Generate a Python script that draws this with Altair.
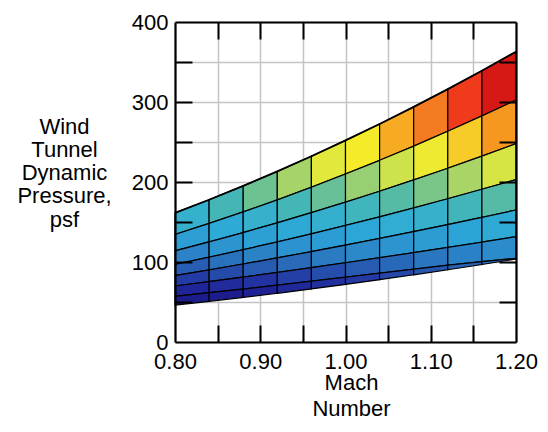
import altair as alt
import pandas as pd

# Mach numbers at the cell column edges
mach_edges = [0.80, 0.84, 0.88, 0.92, 0.96, 1.00, 1.04, 1.08, 1.12, 1.16, 1.20]

# Dynamic pressure (psf) of each boundary curve at the column edges, top to bottom
q_line_0 = [161.3, 177.8, 195.1, 213.3, 232.2, 252.0, 272.5, 293.9, 316.1, 339.1, 362.9]
q_line_1 = [134.4, 148.2, 162.6, 177.7, 193.5, 210.0, 227.1, 244.9, 263.4, 282.6, 302.4]
q_line_2 = [114.0, 125.2, 136.8, 149.0, 161.7, 174.8, 188.4, 202.6, 217.2, 232.3, 248.0]
q_line_3 = [97.0, 106.0, 115.4, 125.1, 135.2, 145.7, 156.5, 167.6, 179.1, 190.9, 203.0]
q_line_4 = [83.0, 90.1, 97.5, 105.2, 113.0, 121.2, 129.5, 138.0, 146.8, 155.8, 165.0]
q_line_5 = [70.0, 75.5, 81.2, 87.0, 93.0, 99.1, 105.4, 111.7, 118.2, 124.9, 131.7]
q_line_6 = [57.0, 61.6, 66.2, 71.0, 76.0, 81.0, 86.0, 91.0, 96.0, 100.5, 104.5]
q_line_7 = [46.1, 50.8, 55.8, 60.9, 66.4, 72.0, 77.9, 84.0, 90.3, 96.9, 103.7]

# Axis ticks
x_tick_values = [0.80, 0.85, 0.90, 0.95, 1.00, 1.05, 1.10, 1.15, 1.20]
x_inner_ticks = [0.85, 0.90, 0.95, 1.00, 1.05, 1.10, 1.15]
y_tick_values = [0, 50, 100, 150, 200, 250, 300, 350, 400]
y_inner_ticks = [50, 100, 150, 200, 250, 300, 350]

# Colour ramp (psf -> colour)
color_stops = [45, 60, 75, 90, 105, 120, 140, 160, 175, 195, 210, 222, 240, 250, 265, 280, 300, 320, 340]
color_values = ["#181780", "#1d1e92", "#2230a0", "#2654ae", "#2a78c0", "#2c94d0", "#2ca8d8",
                "#38b2ca", "#4ab8ae", "#84c880", "#bcdc58", "#e2e83c", "#f6ec28", "#f8c828",
                "#f69a20", "#f57a22", "#ef3a1c", "#d81a16", "#c81410"]

lines = [q_line_0, q_line_1, q_line_2, q_line_3, q_line_4, q_line_5, q_line_6, q_line_7]
rows = []
for i in range(len(lines) - 1):
    up, lo = lines[i], lines[i + 1]
    for j in range(len(mach_edges) - 1):
        qm = (up[j] + up[j + 1] + lo[j] + lo[j + 1]) / 4.0
        cell = f"r{i}c{j}"
        for k in (j, j + 1):
            rows.append({"cell": cell, "M": mach_edges[k], "lo": lo[k], "hi": up[k], "qm": qm})
df = pd.DataFrame(rows)

top_df = pd.DataFrame({"M": mach_edges, "q": q_line_0})

FONT = "Liberation Sans"
xs = alt.Scale(domain=[0.8, 1.2], nice=False, zero=False)
ys = alt.Scale(domain=[0, 400], nice=False, zero=False)

main = alt.Chart(df).mark_area(stroke="black", strokeWidth=1.2, strokeJoin="miter").encode(
    x=alt.X("M:Q", scale=xs, axis=alt.Axis(
        orient="bottom", values=x_tick_values, grid=True, gridColor="#c4c4c4", gridWidth=1.5,
        ticks=False, tickSize=0, domain=False, labelOverlap=False, labelFlush=False,
        labelExpr="round(datum.value*100) % 10 == 0 ? format(datum.value, '.2f') : ''",
        labelFont=FONT, labelFontSize=22, labelColor="black", labelPadding=9,
        title=["Mach", "Number"], titleFont=FONT, titleFontSize=22, titleFontWeight="normal",
        titleColor="black", titleLineHeight=26.5, titleBaseline="alphabetic",
        titleAlign="center", titleX=176, titleY=47)),
    y=alt.Y("lo:Q", scale=ys, axis=alt.Axis(
        orient="left", values=y_tick_values, grid=True, gridColor="#c4c4c4", gridWidth=1.5,
        ticks=False, tickSize=0, domain=False, labelOverlap=False, labelFlush=False,
        labelExpr="datum.value % 100 == 0 ? datum.label : ''",
        labelFont=FONT, labelFontSize=22, labelColor="black", labelPadding=7,
        title=["Wind", "Tunnel", "Dynamic", "Pressure,", "psf"], titleFont=FONT,
        titleFontSize=22, titleFontWeight="normal", titleColor="black", titleAngle=0,
        titleLineHeight=23.3, titleBaseline="alphabetic", titleAlign="center",
        titleX=-111, titleY=111)),
    y2="hi:Q",
    fill=alt.Fill("qm:Q", scale=alt.Scale(domain=color_stops, range=color_values, interpolate="rgb"),
                  legend=None),
    detail="cell:N",
)

top_line = alt.Chart(top_df).mark_line(color="black", strokeWidth=1.8).encode(
    x=alt.X("M:Q", scale=xs, axis=None),
    y=alt.Y("q:Q", scale=ys, axis=None),
)


def tick_axis(orient, values, offset, size, domain=False):
    return alt.Axis(orient=orient, values=values, offset=offset, tickSize=size, tickWidth=2,
                    tickColor="black", ticks=size > 0, labels=False, domain=domain,
                    domainColor="black", domainWidth=2.2, grid=False, title=None, zindex=2)


t1 = alt.Chart(df).mark_point(opacity=0).encode(
    x=alt.X("M:Q", scale=xs, axis=tick_axis("bottom", x_inner_ticks, -17, 17)),
    y=alt.Y("lo:Q", scale=ys, axis=tick_axis("left", y_inner_ticks, -17, 17)),
)
t2 = alt.Chart(df).mark_point(opacity=0).encode(
    x=alt.X("M:Q", scale=xs, axis=tick_axis("top", x_inner_ticks, -17, 17)),
    y=alt.Y("lo:Q", scale=ys, axis=tick_axis("right", y_inner_ticks, -17, 17)),
)
f1 = alt.Chart(df).mark_point(opacity=0).encode(
    x=alt.X("M:Q", scale=xs, axis=tick_axis("bottom", x_inner_ticks, 0, 0, True)),
    y=alt.Y("lo:Q", scale=ys, axis=tick_axis("left", y_inner_ticks, 0, 0, True)),
)
f2 = alt.Chart(df).mark_point(opacity=0).encode(
    x=alt.X("M:Q", scale=xs, axis=tick_axis("top", x_inner_ticks, 0, 0, True)),
    y=alt.Y("lo:Q", scale=ys, axis=tick_axis("right", y_inner_ticks, 0, 0, True)),
)

chart = alt.layer(main, top_line, t1, t2, f1, f2).resolve_axis(
    x="independent", y="independent"
).properties(
    width=341, height=320,
    autosize=alt.AutoSizeParams(type="none"),
    padding={"left": 167, "top": 14, "right": 24, "bottom": 78},
).configure_view(stroke=None)

chart.save("out.html", embed_options={"renderer": "svg", "actions": False})
